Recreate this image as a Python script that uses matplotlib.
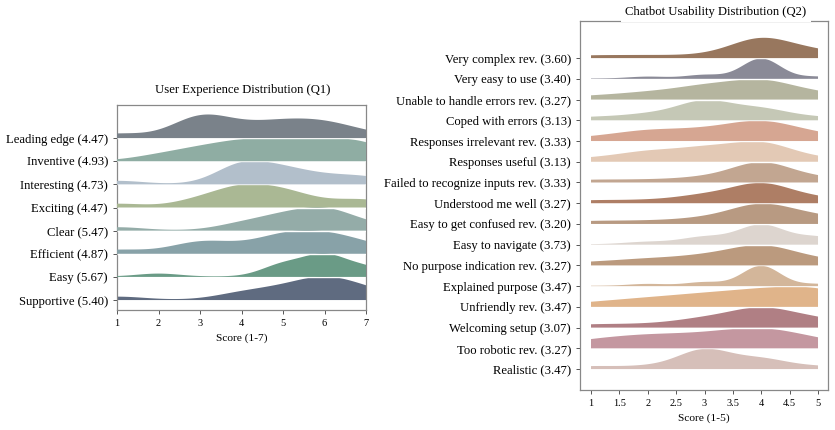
import matplotlib
matplotlib.use("Agg")
import matplotlib.pyplot as plt
import numpy as np

plt.rcParams['font.family'] = ['Liberation Serif', 'DejaVu Serif']

# Q1, scores 1-7: number of answers at each score (15 respondents), top row first
q1_labels = ['Leading edge (4.47)', 'Inventive (4.93)', 'Interesting (4.73)', 'Exciting (4.47)',
             'Clear (5.47)', 'Efficient (4.87)', 'Easy (5.67)', 'Supportive (5.40)']
q1_counts = [
    [1, 0, 5, 2, 3, 3, 1],
    [0, 1, 2, 3, 3, 3, 3],
    [1, 0, 0, 6, 4, 2, 2],
    [1, 0, 2, 5, 4, 1, 2],
    [1, 0, 0, 2, 4, 6, 2],
    [1, 0, 3, 1, 4, 4, 2],
    [0, 1, 0, 0, 4, 7, 3],
    [1, 0, 0, 2, 3, 6, 3],
]
q1_colors = ['#7a828a', '#8fada3', '#b2bfcb', '#aab894', '#94aca8', '#88a2a8', '#6a9b86', '#5f6b80']

# Q2, scores 1-5
q2_labels = ['Very complex rev. (3.60)', 'Very easy to use (3.40)', 'Unable to handle errors rev. (3.27)',
             'Coped with errors (3.13)', 'Responses irrelevant rev. (3.33)', 'Responses useful (3.13)',
             'Failed to recognize inputs rev. (3.33)', 'Understood me well (3.27)',
             'Easy to get confused rev. (3.20)', 'Easy to navigate (3.73)',
             'No purpose indication rev. (3.27)', 'Explained purpose (3.47)', 'Unfriendly rev. (3.47)',
             'Welcoming setup (3.07)', 'Too robotic rev. (3.27)', 'Realistic (3.47)']
q2_counts = [
    [1, 1, 1, 9, 3],
    [0, 1, 2, 11, 1],
    [1, 2, 4, 6, 2],
    [1, 2, 7, 4, 1],
    [1, 3, 3, 6, 2],
    [1, 3, 4, 6, 1],
    [1, 1, 2, 9, 2],
    [1, 1, 3, 8, 2],
    [1, 1, 2, 8, 3],
    [0, 1, 3, 8, 3],
    [1, 2, 3, 7, 2],
    [0, 1, 2, 11, 1],
    [1, 2, 3, 4, 5],
    [1, 1, 3, 7, 3],
    [2, 3, 3, 5, 2],
    [1, 1, 8, 4, 1],
]
q2_colors = ['#98775e', '#8a8a97', '#b5b59f', '#c5c8b6', '#d6a692', '#e3c9b5', '#c2a691', '#ae7e65',
             '#b89a82', '#ddd5cf', '#bb9a7e', '#d3b69a', '#e0b48a', '#b07f84', '#c497a0', '#d6bfb9']
q2_ticks = [1, 1.5, 2, 2.5, 3, 3.5, 4, 4.5, 5]
q2_ticklabels = ['1', '1.5', '2', '2.5', '3', '3.5', '4', '4.5', '5']


def kde(counts, scores, grid, adjust):
    counts = np.asarray(counts, float)
    n = counts.sum()
    mean = (counts * scores).sum() / n
    std = np.sqrt((counts * (scores - mean) ** 2).sum() / (n - 1))
    bw = std * n ** (-1 / 5) * adjust
    d = (counts[:, None] * np.exp(-0.5 * ((grid[None, :] - scores[:, None]) / bw) ** 2)).sum(0)
    return d / d.max()


def ridges(ax, labels, counts, colors, lo, hi, height, adjust):
    scores = np.arange(lo, hi + 1)
    grid = np.linspace(lo, hi, 400)
    k = len(labels)
    for i in range(k):
        base = k - 1 - i
        y = kde(counts[i], scores, grid, adjust) * height
        # white gap under each ridge where it crosses the one below
        ax.plot([lo, hi], [base, base], color='white', lw=1.0, zorder=2 + base - 0.5,
                solid_capstyle='butt')
        ax.fill_between(grid, base, base + y + 0.02, facecolor=colors[i], edgecolor='none',
                        zorder=2 + base)
    ax.set_yticks(range(k))
    ax.set_yticklabels(labels[::-1], fontsize=9.1)
    for s in ax.spines.values():
        s.set_color('#888888')
        s.set_linewidth(0.9)
    ax.tick_params(colors='#555555', length=3, width=0.7, labelcolor='black')
    ax.tick_params(axis='x', labelsize=7.5)


fig = plt.figure(figsize=(8.35, 4.3), dpi=100)
W, H = 835, 430

ax1 = fig.add_axes([117 / W, 1 - 310 / H, (366 - 117) / W, (310 - 105) / H])
ridges(ax1, q1_labels, q1_counts, q1_colors, 1, 7, 1.0, 0.72)
ax1.set_xlim(1, 7)
ax1.set_ylim(-0.43, 8.43)
ax1.set_xticks(range(1, 8))
ax1.set_xlabel('Score (1-7)', fontsize=8.2, labelpad=4)
fig.text(243 / W, 1 - 90 / H, 'User Experience Distribution (Q1)', ha='center', va='center', fontsize=9.1)

ax2 = fig.add_axes([580 / W, 1 - 390 / H, (828 - 580) / W, (390 - 21) / H])
ridges(ax2, q2_labels, q2_counts, q2_colors, 1, 5, 0.96, 0.85)
ax2.set_xlim(0.806, 5.176)
ax2.set_ylim(-1.01, 16.79)
ax2.set_xticks(q2_ticks)
ax2.set_xticklabels(q2_ticklabels)
ax2.set_xlabel('Score (1-5)', fontsize=8.2, labelpad=4)
fig.text(716 / W, 1 - 12 / H, 'Chatbot Usability Distribution (Q2)', ha='center', va='center', fontsize=9.1,
         bbox=dict(facecolor='white', edgecolor='none', pad=3))

fig.savefig('out.png', dpi=100)
